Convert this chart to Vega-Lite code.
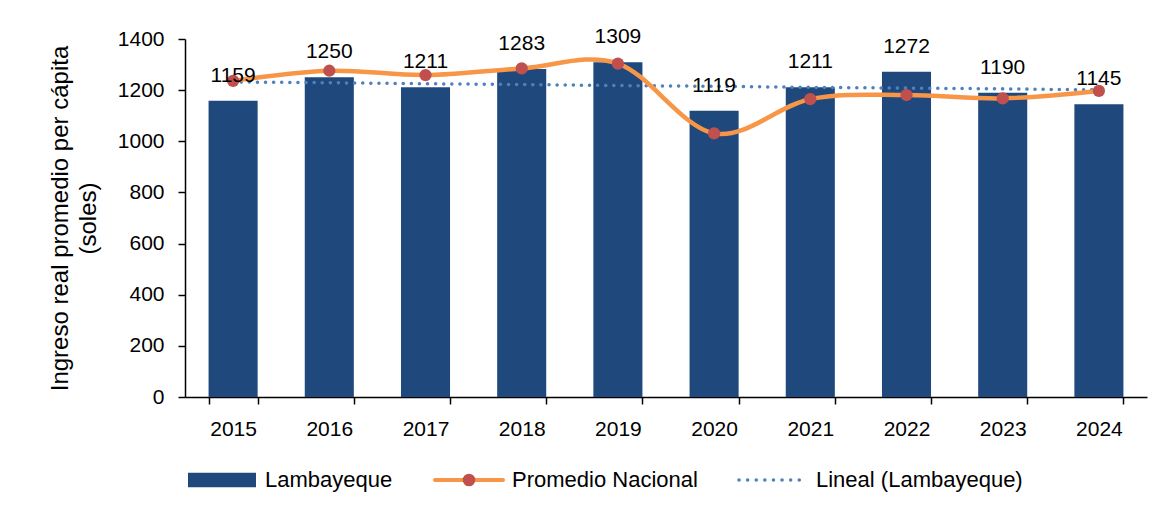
{
  "$schema": "https://vega.github.io/schema/vega-lite/v6.json",
  "autosize": {"type": "none"},
  "width": 962,
  "height": 358,
  "padding": {"left": 185, "top": 39, "right": 27, "bottom": 118},
  "background": "white",
  "config": {
    "font": "Liberation Sans",
    "view": {"stroke": null},
    "axis": {
      "domainColor": "black", "domainWidth": 1.5,
      "tickColor": "black", "tickWidth": 1.5, "tickSize": 7,
      "labelFont": "Liberation Sans", "labelFontSize": 21, "labelColor": "black",
      "titleFont": "Liberation Sans", "titleFontSize": 24, "titleColor": "black", "titleFontWeight": "normal",
      "grid": false
    }
  },
  "data": {
    "values": [
      {"year": "2015", "lamb": 1159, "nac": 1236, "trend": 1232},
      {"year": "2016", "lamb": 1250, "nac": 1276, "trend": 1229},
      {"year": "2017", "lamb": 1211, "nac": 1259, "trend": 1225},
      {"year": "2018", "lamb": 1283, "nac": 1285, "trend": 1222},
      {"year": "2019", "lamb": 1309, "nac": 1304, "trend": 1218},
      {"year": "2020", "lamb": 1119, "nac": 1031, "trend": 1215},
      {"year": "2021", "lamb": 1211, "nac": 1165, "trend": 1211},
      {"year": "2022", "lamb": 1272, "nac": 1181, "trend": 1208},
      {"year": "2023", "lamb": 1190, "nac": 1168, "trend": 1205},
      {"year": "2024", "lamb": 1145, "nac": 1197, "trend": 1201}
    ]
  },
  "encoding": {
    "x": {
      "field": "year", "type": "ordinal",
      "scale": {"paddingInner": 0.49, "paddingOuter": 0.245},
      "axis": {"title": null, "labelAngle": 0, "tickBand": "extent", "labelPadding": 14}
    }
  },
  "layer": [
    {
      "mark": {"type": "bar"},
      "encoding": {
        "y": {
          "field": "lamb", "type": "quantitative",
          "scale": {"domain": [0, 1400], "nice": false},
          "axis": {
            "values": [0, 200, 400, 600, 800, 1000, 1200, 1400],
            "format": "d",
            "title": ["Ingreso real promedio per cápita", "(soles)"],
            "titleLineHeight": 28,
            "titlePadding": 17,
            "labelPadding": 14
          }
        },
        "color": {
          "datum": "Lambayeque",
          "scale": {
            "domain": ["Lambayeque", "Promedio Nacional", "Lineal (Lambayeque)"],
            "range": ["#1F497D", "#F79646", "#4F81BD"]
          },
          "legend": {
            "title": null,
            "orient": "none",
            "direction": "horizontal",
            "legendX": 26,
            "legendY": 430,
            "labelFont": "Liberation Sans",
            "labelFontSize": 22,
            "labelColor": "black",
            "labelOffset": 32,
            "labelLimit": 500,
            "columnPadding": 34,
            "encode": {
              "symbols": {
                "update": {
                  "shape": {"signal": "datum.value === 'Lambayeque' ? 'M-1,-0.21H1V0.21H-1Z' : 'M-1,0H1'"},
                  "fill": {"signal": "datum.value === 'Lambayeque' ? '#1F497D' : 'transparent'"},
                  "stroke": {"signal": "datum.value === 'Lambayeque' ? 'transparent' : datum.value === 'Promedio Nacional' ? '#F79646' : '#4F81BD'"},
                  "strokeWidth": {"signal": "datum.value === 'Lambayeque' ? 0 : datum.value === 'Promedio Nacional' ? 4 : 3.5"},
                  "strokeDash": {"signal": "datum.value === 'Lineal (Lambayeque)' ? [0.1, 8.5] : [1, 0]"},
                  "strokeCap": {"value": "round"},
                  "size": {"value": 4624},
                  "opacity": {"value": 1}
                }
              }
            }
          }
        }
      }
    },
    {
      "mark": {"type": "line", "color": "#4F81BD", "strokeWidth": 3.5, "strokeDash": [0.1, 8], "strokeCap": "round"},
      "encoding": {"y": {"field": "trend", "type": "quantitative"}}
    },
    {
      "mark": {"type": "line", "color": "#F79646", "strokeWidth": 4.5, "interpolate": "cardinal"},
      "encoding": {"y": {"field": "nac", "type": "quantitative"}}
    },
    {
      "mark": {"type": "point", "filled": true, "opacity": 1, "size": 150, "shape": "circle"},
      "encoding": {
        "y": {"field": "nac", "type": "quantitative"},
        "fill": {
          "datum": "Promedio Nacional",
          "scale": {"domain": ["Promedio Nacional"], "range": ["#C0504D"]},
          "legend": {
            "title": null,
            "orient": "none",
            "direction": "horizontal",
            "legendX": 273,
            "legendY": 430,
            "labelFontSize": 22,
            "labelExpr": "''",
            "symbolSize": 160,
            "symbolStrokeWidth": 0,
            "symbolOpacity": 1
          }
        }
      }
    },
    {
      "mark": {"type": "text", "dy": -25, "baseline": "middle", "fontSize": 21, "color": "black", "font": "Liberation Sans"},
      "encoding": {
        "y": {"field": "lamb", "type": "quantitative"},
        "text": {"field": "lamb", "type": "quantitative", "format": "d"}
      }
    }
  ]
}
